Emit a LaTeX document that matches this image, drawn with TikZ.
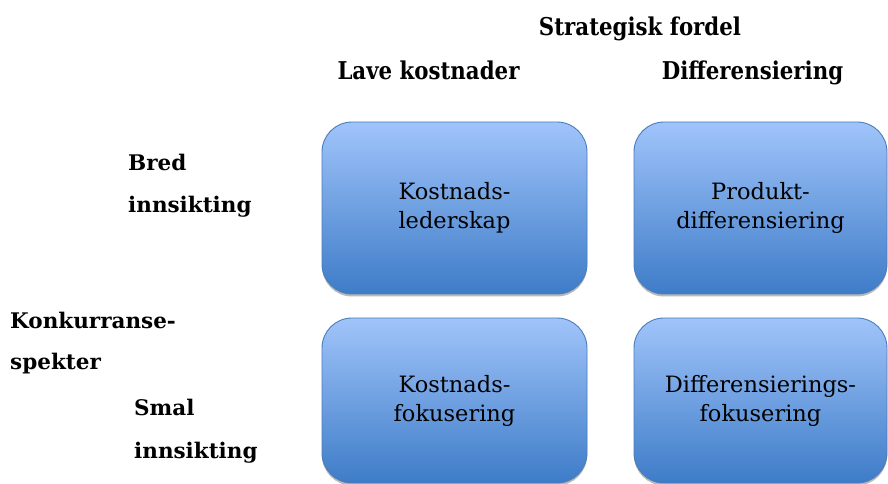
\documentclass[tikz,border=0pt]{standalone}
\usepackage{fontspec}
\setmainfont{DejaVu Serif}
\newfontfamily\headfont{DejaVu Serif}[FakeStretch=0.87]
\usetikzlibrary{shadows}
\definecolor{boxtop}{RGB}{160,196,250}
\definecolor{boxbot}{RGB}{62,124,200}
\definecolor{boxline}{RGB}{74,126,187}
\tikzset{
  quadbox/.style={draw=boxline, line width=0.9pt, rounded corners=30pt,
    top color=boxtop, bottom color=boxbot, align=center,
    font=\fontsize{22.5}{29}\selectfont, text=black,
    drop shadow={shadow xshift=0pt, shadow yshift=-2.5pt, fill=gray!55, opacity=1}},
  headlabel/.style={font=\headfont\bfseries\fontsize{24.5}{28}\selectfont, inner sep=0pt, anchor=base},
  sidelabel/.style={font=\bfseries\fontsize{21.5}{24}\selectfont, inner sep=0pt, anchor=base west}
}
\begin{document}
\begin{tikzpicture}[x=1pt, y=1pt]
  \useasboundingbox (0,0) rectangle (888,484);

  % column headings
  \node[headlabel] (strat) at (640,448) {Strategisk fordel};
  \node[headlabel] (lave)  at (428.5,404) {Lave kostnader};
  \node[headlabel] (diff)  at (752.5,404) {Differensiering};

  % row headings
  \node[sidelabel] (bred1) at (128,313) {Bred};
  \node[sidelabel] (bred2) at (128,271) {innsikting};
  \node[sidelabel] (konk1) at (10,155) {Konkurranse-};
  \node[sidelabel] (konk2) at (10,114) {spekter};
  \node[sidelabel] (smal1) at (134,68) {Smal};
  \node[sidelabel] (smal2) at (134,25) {innsikting};

  % the four strategy boxes
  \node[quadbox, minimum width=265pt, minimum height=172pt] (kl) at (454.5,276) {Kostnads-\\lederskap};
  \node[quadbox, minimum width=253pt, minimum height=172pt] (pd) at (760.5,276) {Produkt-\\differensiering};
  \node[quadbox, minimum width=265pt, minimum height=165pt] (kf) at (454.5,83.5) {Kostnads-\\fokusering};
  \node[quadbox, minimum width=253pt, minimum height=165pt] (df) at (760.5,83.5) {Differensierings-\\fokusering};
\end{tikzpicture}
\end{document}
